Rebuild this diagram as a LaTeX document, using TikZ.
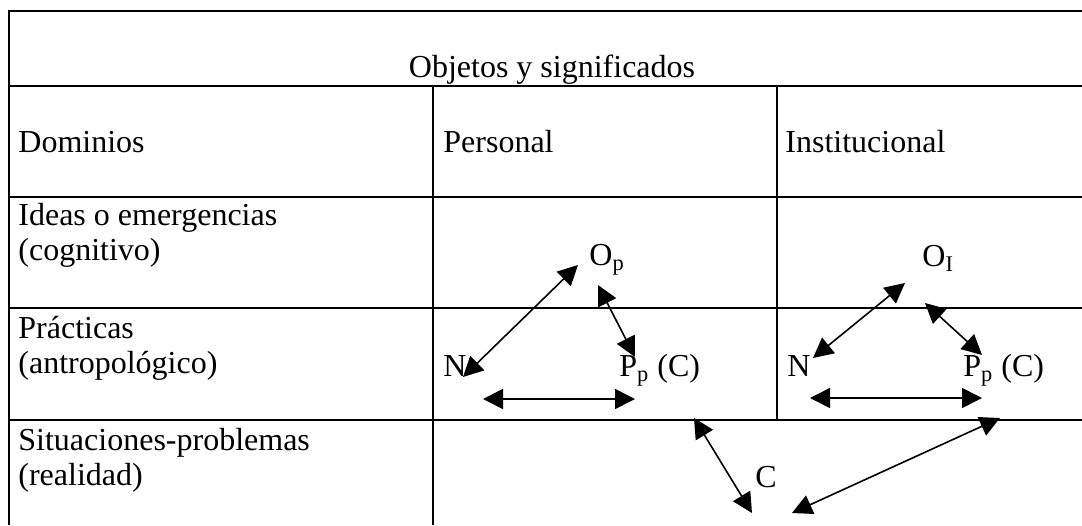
\documentclass[tikz,border=0pt]{standalone}
\usepackage{fontspec}
\setmainfont{Liberation Serif}
\usetikzlibrary{arrows.meta, positioning}

\begin{document}
\begin{tikzpicture}[x=0.5pt, y=-0.5pt,
        grid/.style={line width=1pt},
        txt/.style={anchor=base west, inner sep=0pt, align=left, font=\fontsize{16}{17.5}\selectfont},
        dbl/.style={{Triangle[length=10pt,width=10pt]}-{Triangle[length=10pt,width=10pt]}, line width=0.8pt}]
            \useasboundingbox (0,0) rectangle (1082,525);
            \draw[grid] (1082,11) -- (9,11) -- (9,525);
            \foreach \y in {86,197,308,420} {
                    \draw[grid] (9,\y) -- (1082,\y);
                };
            \draw[grid] (433,86) -- (433,525);
            \draw[grid] (777,86) -- (777,420);

            \node[txt, anchor=base] (titulo) at (552,77) {Objetos y significados};
            \node[txt] (dominios) at (18,152) {Dominios};
            \node[txt] (personal) at (443,152) {Personal};
            \node[txt] (institucional) at (785,152) {Institucional};
            \node[txt] (ideas) at (18,260) {Ideas o emergencias\\(cognitivo)};
            \node[txt] (practicas) at (18,373) {Prácticas\\(antropológico)};
            \node[txt] (situaciones) at (18,485) {Situaciones-problemas\\(realidad)};

            \node[txt] (op) at (589,265) {O\textsubscript{p}};
            \node[txt] (np) at (443,376) {N};
            \node[txt] (pp) at (619,376) {P\textsubscript{p} (C)};
            \node[txt] (c) at (755,487) {C};
            \node[txt] (oi) at (922,266) {O\textsubscript{I}};
            \node[txt] (ni) at (787,376) {N};
            \node[txt] (pi) at (963,376) {P\textsubscript{p} (C)};

            \coordinate (np-op) at (463,377);
            \coordinate (op-np) at (578,265);
            \coordinate (op-pp) at (598,285);
            \coordinate (pp-op) at (635,357);
            \coordinate (np-pp) at (483,399);
            \coordinate (pp-np) at (635,399);
            \coordinate (pp-c) at (694,418);
            \coordinate (c-pp) at (752,513);
            \coordinate (ni-oi) at (813,358);
            \coordinate (oi-ni) at (905,283);
            \coordinate (oi-pi) at (925,303);
            \coordinate (pi-oi) at (982,355);
            \coordinate (ni-pi) at (810,398);
            \coordinate (pi-ni) at (982,398);
            \coordinate (c-pi) at (792,513);
            \coordinate (pi-c) at (1000,418);

            \draw[dbl] (np-op) -- (op-np);
            \draw[dbl] (op-pp) -- (pp-op);
            \draw[dbl] (np-pp) -- (pp-np);
            \draw[dbl] (pp-c) -- (c-pp);
            \draw[dbl] (ni-oi) -- (oi-ni);
            \draw[dbl] (oi-pi) -- (pi-oi);
            \draw[dbl] (ni-pi) -- (pi-ni);
            \draw[dbl] (c-pi) -- (pi-c);
        \end{tikzpicture}
\end{document}
